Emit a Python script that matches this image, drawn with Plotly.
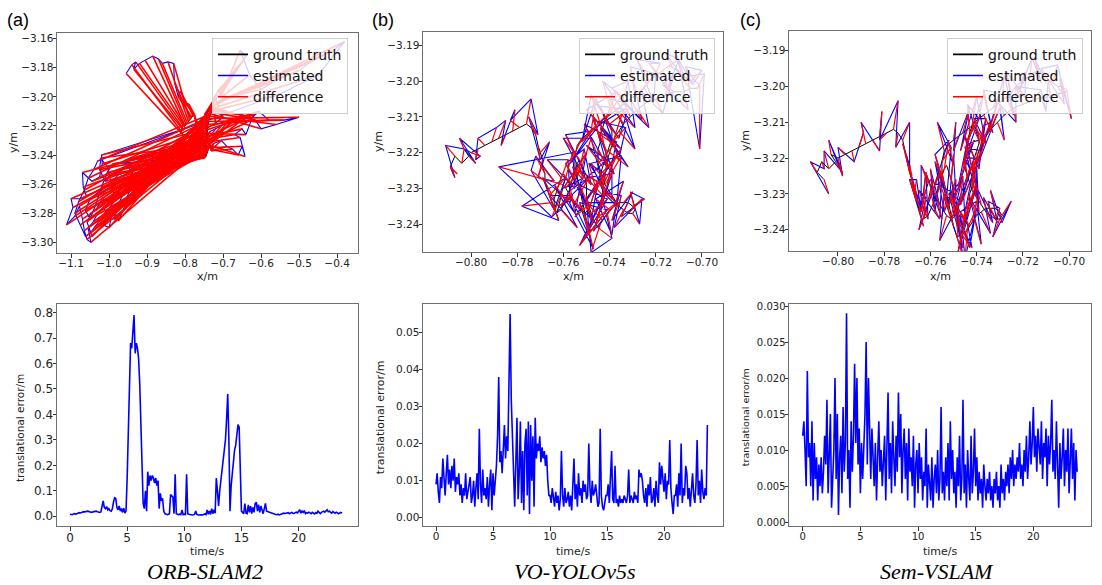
import numpy as np
import plotly.graph_objects as go

W, H = 1102, 585

# ---------------- trajectory data ----------------
# ground-truth trajectory (m), shared by all three methods
GT_X = [-0.806, -0.809, -0.807, -0.804, -0.801, -0.803, -0.800, -0.797, -0.794, -0.791,
        -0.788, -0.785, -0.782, -0.779, -0.776, -0.774, -0.772, -0.771, -0.770, -0.769,
        -0.769, -0.768, -0.768, -0.767, -0.766, -0.765, -0.764, -0.764, -0.763, -0.762,
        -0.761, -0.760, -0.759, -0.760, -0.761, -0.762, -0.763, -0.761, -0.759, -0.757,
        -0.756, -0.755, -0.754, -0.753, -0.752, -0.751, -0.750, -0.750, -0.749, -0.748,
        -0.747, -0.746, -0.745, -0.744, -0.743, -0.742, -0.741, -0.740, -0.738, -0.736,
        -0.734, -0.732, -0.730, -0.729, -0.730, -0.732, -0.734, -0.736, -0.738, -0.740,
        -0.742, -0.743, -0.744, -0.745, -0.745, -0.745, -0.744, -0.744, -0.743, -0.742,
        -0.741, -0.739, -0.737, -0.735, -0.733, -0.731, -0.729, -0.727, -0.725, -0.723,
        -0.721, -0.719, -0.717, -0.715, -0.713, -0.711, -0.709, -0.707, -0.705, -0.703,
        -0.701, -0.702, -0.705, -0.708, -0.712, -0.716, -0.720, -0.724, -0.728, -0.731,
        -0.734, -0.736, -0.738, -0.739, -0.740, -0.741, -0.741, -0.742, -0.742, -0.743,
        -0.743, -0.744, -0.744, -0.745, -0.746, -0.747, -0.748, -0.749, -0.750, -0.751,
        -0.752, -0.753, -0.754, -0.755, -0.755, -0.754, -0.752, -0.750, -0.748, -0.746,
        -0.744, -0.742, -0.740, -0.739, -0.739, -0.740, -0.741, -0.742, -0.743, -0.744,
        -0.745, -0.746, -0.747, -0.748, -0.749, -0.751, -0.753, -0.755, -0.757, -0.759]
GT_Y = [-3.226, -3.224, -3.221, -3.223, -3.221, -3.219, -3.220, -3.219, -3.218, -3.217,
        -3.216, -3.215, -3.214, -3.213, -3.212, -3.213, -3.215, -3.218, -3.220, -3.222,
        -3.224, -3.226, -3.228, -3.230, -3.232, -3.234, -3.235, -3.233, -3.231, -3.229,
        -3.227, -3.226, -3.227, -3.229, -3.232, -3.235, -3.237, -3.236, -3.233, -3.230,
        -3.227, -3.225, -3.223, -3.222, -3.224, -3.226, -3.229, -3.232, -3.235, -3.237,
        -3.239, -3.240, -3.241, -3.240, -3.239, -3.238, -3.237, -3.236, -3.235, -3.234,
        -3.234, -3.234, -3.235, -3.236, -3.237, -3.237, -3.236, -3.235, -3.233, -3.231,
        -3.229, -3.227, -3.225, -3.223, -3.221, -3.219, -3.217, -3.215, -3.213, -3.211,
        -3.210, -3.209, -3.208, -3.207, -3.206, -3.205, -3.204, -3.203, -3.202, -3.200,
        -3.199, -3.198, -3.197, -3.196, -3.196, -3.197, -3.198, -3.199, -3.200, -3.200,
        -3.201, -3.202, -3.202, -3.203, -3.203, -3.204, -3.205, -3.206, -3.208, -3.210,
        -3.212, -3.214, -3.216, -3.218, -3.220, -3.222, -3.224, -3.226, -3.228, -3.230,
        -3.232, -3.234, -3.236, -3.238, -3.240, -3.241, -3.242, -3.241, -3.239, -3.236,
        -3.233, -3.230, -3.227, -3.224, -3.221, -3.218, -3.216, -3.215, -3.214, -3.213,
        -3.212, -3.211, -3.212, -3.214, -3.216, -3.218, -3.220, -3.222, -3.224, -3.226,
        -3.228, -3.230, -3.232, -3.234, -3.236, -3.237, -3.236, -3.234, -3.232, -3.230]

# ORB-SLAM2 estimated positions (m)
ORB_X = [-0.955, -0.940, -0.930, -0.935, -0.920, -0.905, -0.885, -0.870, -0.860, -0.845,
         -0.830, -0.828, -0.818, -0.812, -0.800, -0.790, -0.782, -0.775, -0.770, -0.766,
         -1.020, -1.018, -1.025, -1.045, -1.070, -1.068, -1.060, -1.075, -1.100, -1.095,
         -1.112, -1.090, -1.078, -1.070, -1.065, -1.058, -1.048, -1.055, -1.042, -1.030,
         -1.015, -1.000, -0.985, -0.978, -0.965, -0.955, -0.945, -0.935, -0.950, -0.965,
         -0.990, -1.010, -1.030, -1.050, -1.062, -1.050, -1.035, -1.020, -1.005, -0.990,
         -0.752, -0.740, -0.725, -0.705, -0.690, -0.675, -0.660, -0.650, -0.642, -0.655,
         -0.670, -0.650, -0.640, -0.620, -0.605, -0.580, -0.540, -0.500, -0.560, -0.600,
         -0.615, -0.640, -0.660, -0.690, -0.710, -0.735, -0.748, -0.745, -0.720, -0.700,
         -0.730, -0.715, -0.700, -0.690, -0.680, -0.665, -0.650, -0.640, -0.655, -0.630,
         -0.600, -0.570, -0.540, -0.500, -0.470, -0.440, -0.410, -0.380, -0.450, -0.550,
         -1.030, -1.040, -1.055, -1.065, -1.080, -1.090, -1.075, -1.062, -1.050, -1.040,
         -1.028, -1.012, -0.998, -0.982, -0.970, -0.960, -0.975, -0.995, -1.010, -1.025,
         -1.022, -1.005, -0.988, -1.000, -1.018, -1.035, -1.048, -1.058, -1.045, -1.030,
         -1.015, -1.000, -0.992, -0.975, -0.960, -0.955, -0.940, -0.930, -0.945, -0.960,
         -0.750, -0.735, -0.720, -0.705, -0.690, -0.675, -0.660, -0.650, -0.640, -0.610]
ORB_Y = [-3.184, -3.178, -3.176, -3.181, -3.177, -3.175, -3.172, -3.174, -3.177, -3.176,
         -3.177, -3.190, -3.200, -3.196, -3.204, -3.205, -3.210, -3.214, -3.216, -3.219,
         -3.240, -3.246, -3.255, -3.258, -3.252, -3.262, -3.268, -3.270, -3.270, -3.276,
         -3.288, -3.282, -3.275, -3.284, -3.292, -3.298, -3.300, -3.290, -3.286, -3.280,
         -3.276, -3.284, -3.284, -3.275, -3.268, -3.262, -3.256, -3.250, -3.246, -3.250,
         -3.258, -3.262, -3.266, -3.270, -3.278, -3.284, -3.274, -3.262, -3.252, -3.246,
         -3.241, -3.236, -3.232, -3.230, -3.234, -3.236, -3.240, -3.234, -3.241, -3.228,
         -3.226, -3.222, -3.226, -3.212, -3.210, -3.216, -3.216, -3.214, -3.219, -3.222,
         -3.216, -3.213, -3.212, -3.210, -3.209, -3.209, -3.212, -3.222, -3.218, -3.214,
         -3.206, -3.200, -3.196, -3.190, -3.186, -3.180, -3.176, -3.172, -3.168, -3.185,
         -3.195, -3.190, -3.186, -3.182, -3.176, -3.172, -3.168, -3.162, -3.185, -3.198,
         -3.244, -3.250, -3.256, -3.264, -3.272, -3.280, -3.288, -3.296, -3.294, -3.290,
         -3.286, -3.280, -3.276, -3.270, -3.262, -3.256, -3.252, -3.254, -3.258, -3.250,
         -3.242, -3.248, -3.266, -3.272, -3.270, -3.278, -3.280, -3.286, -3.296, -3.292,
         -3.288, -3.290, -3.280, -3.285, -3.276, -3.270, -3.262, -3.256, -3.250, -3.244,
         -3.230, -3.224, -3.222, -3.220, -3.218, -3.216, -3.218, -3.212, -3.218, -3.211]

# VO-YOLOv5s position error vectors relative to ground truth (mm)
YOLO_DX_MM = [-3, 2, -4, 1, 3, -2, 4, -1, -3, 2,
              3, -2, 1, -4, 2, 3, -3, 1, 4, -2,
              5, -4, -6, 3, 7, -13, 2, -5, 6, 4,
              -6, 5, 3, -28, -4, 6, -3, 7, -5, 2,
              6, -5, 3, -7, 4, 8, -6, 2, -4, 7,
              -5, 3, 6, -4, -7, 5, 2, -6, 4, -3,
              4, -3, 5, -2, 3, 6, -4, 1, -5, 3,
              7, -5, 2, 8, -6, 4, -3, 9, -7, 5,
              6, -4, 8, 3, -6, 5, -2, 7, 4, -5,
              3, -4, 2, 5, -3, 4, -2, 3, 5, -4,
              0, 3, -4, 2, -5, 4, 3, -2, 5, -3,
              -6, 7, 4, -5, 8, -3, 6, -7, 5, 2,
              -7, 5, -3, 8, 4, -6, 7, -4, 3, -8,
              5, -6, 3, 7, -4, 6, -5, 8, 2, -6,
              -4, 6, 8, -5, 3, 7, -6, 4, -7, 5,
              6, -3, 5, -7, 4, 2, -5, 6, -4, 7]
YOLO_DY_MM = [2, -3, 3, 4, -2, 3, -1, -3, 2, 4,
              5, -3, 6, 2, 7, -2, 5, -4, 3, -5,
              -4, 5, 3, -6, 5, -1, -4, 6, -3, 7,
              5, -4, 7, 5, -6, 3, 5, -5, 4, -7,
              7, -5, -4, 6, 8, -3, 5, -7, 6, 4,
              -6, 7, -3, -8, 5, 4, -6, 3, 7, -5,
              3, -4, 2, 5, -3, 4, -5, 3, 2, -4,
              8, 4, -7, 6, 9, -5, 7, -4, 5, 8,
              6, 9, -5, 7, 4, -6, 8, 5, -4, 6,
              4, 3, -5, 2, 4, -3, 5, -2, 3, 4,
              -18, 4, 3, -5, 2, 6, -4, 3, -5, 4,
              7, -5, 8, 6, -4, 9, 5, -6, 7, 8,
              5, 8, -6, 4, 9, -5, 6, 7, -8, 4,
              -6, 7, 8, -5, 6, 4, -7, 5, 9, -4,
              8, -5, 4, 7, -6, 5, 9, -4, 6, 3,
              -5, 7, 6, -4, 8, -6, 5, 7, -3, 6]

# Sem-VSLAM position error vectors relative to ground truth (mm)
SEM_DX_MM = [2, -3, 1, -2, 3, -1, 2, -3, 1, 2,
             -2, 3, 1, -3, 2, -1, 3, 2, -2, 1,
             3, -2, 4, 1, -3, 2, -4, 3, 1, -2,
             -3, 4, -1, 2, 5, -3, 1, -4, 3, 2,
             4, -3, 2, -5, 3, 1, -2, 4, -3, 2,
             -2, 3, 5, -1, -4, 2, 3, -3, 4, -1,
             3, -2, 1, 4, -3, 2, -1, 3, -2, 1,
             2, -4, 3, 1, -3, 4, -2, 5, -1, 3,
             -3, 2, 4, -2, 3, -4, 1, 3, -2, 4,
             2, -3, 1, 3, -2, 1, -3, 2, 4, -1,
             2, -2, 3, -1, 2, 4, -3, 1, -2, 3,
             4, -3, 1, 5, -2, 3, -4, 2, 1, -3,
             -2, 4, 3, -3, 1, 5, -1, 3, -4, 2,
             3, -1, -4, 2, 4, -3, 2, 1, -2, 3,
             -3, 2, 4, -2, 3, 1, -4, 2, 3, -1,
             2, -4, 1, 3, -2, 4, -3, 1, 2, -3]
SEM_DY_MM = [-4, 3, -2, 5, -3, 4, -5, 2, -3, 4,
             6, -3, 7, -2, 8, -4, 5, -6, 4, -3,
             -6, 5, -7, 4, 6, -5, 8, -4, 7, -6,
             5, -7, 4, -6, 8, -5, 6, 7, -4, 5,
             -7, 6, 8, -5, -6, 7, -4, 6, 5, -8,
             6, -5, 7, -8, 4, 6, -7, 5, -6, 3,
             -4, 5, -3, 4, -5, 3, 4, -3, 5, -4,
             7, -6, 5, 8, -7, 4, -5, 6, 8, -4,
             -6, 7, -5, 6, 4, -8, 7, -5, 6, -3,
             3, -4, 5, -3, 4, -2, 3, 5, -4, 3,
             -8, 4, -3, 5, -4, 3, 5, -4, 3, -5,
             6, -7, 5, 8, -6, 4, 7, -5, 6, -8,
             -5, 7, 6, -8, 5, -4, 7, -6, 8, 5,
             7, -5, 6, -7, 4, 8, -6, 5, -4, 7,
             -6, 8, -4, 5, 7, -5, 6, -7, 4, 6,
             5, -6, 7, -4, 6, 5, -7, 4, -5, 6]

# ---------------- translational error over time ----------------
T_STEP = 0.1  # s between samples

ERR_ORB = [  # m
    0.008, 0.007, 0.006, 0.009, 0.010, 0.008, 0.011, 0.012, 0.014, 0.013,
    0.015, 0.016, 0.018, 0.017, 0.019, 0.020, 0.019, 0.018, 0.016, 0.015,
    0.017, 0.019, 0.021, 0.020, 0.018, 0.016, 0.015, 0.017, 0.045, 0.060,
    0.035, 0.030, 0.038, 0.025, 0.030, 0.022, 0.020, 0.028, 0.055, 0.072,
    0.070, 0.035, 0.025, 0.040, 0.020, 0.030, 0.015, 0.032, 0.012, 0.020,
    0.150, 0.350, 0.550, 0.680, 0.660, 0.720, 0.790, 0.640, 0.680, 0.660,
    0.620, 0.520, 0.380, 0.220, 0.050, 0.030, 0.100, 0.020, 0.175, 0.120,
    0.160, 0.140, 0.160, 0.150, 0.130, 0.150, 0.120, 0.140, 0.030, 0.090,
    0.060, 0.070, 0.020, 0.010, 0.008, 0.006, 0.008, 0.010, 0.085, 0.080,
    0.075, 0.010, 0.165, 0.010, 0.008, 0.006, 0.008, 0.007, 0.025, 0.006,
    0.008, 0.007, 0.165, 0.010, 0.008, 0.006, 0.007, 0.005, 0.006, 0.008,
    0.020, 0.007, 0.005, 0.006, 0.008, 0.006, 0.005, 0.007, 0.009, 0.006,
    0.025, 0.008, 0.020, 0.007, 0.030, 0.010, 0.025, 0.012, 0.150, 0.100,
    0.040, 0.100, 0.140, 0.180, 0.220, 0.260, 0.300, 0.380, 0.480, 0.300,
    0.020, 0.120, 0.180, 0.220, 0.260, 0.280, 0.320, 0.360, 0.350, 0.200,
    0.020, 0.015, 0.010, 0.050, 0.012, 0.010, 0.045, 0.015, 0.040, 0.010,
    0.035, 0.015, 0.050, 0.055, 0.020, 0.045, 0.015, 0.040, 0.020, 0.010,
    0.030, 0.050, 0.020, 0.018, 0.016, 0.015, 0.014, 0.012, 0.010, 0.008,
    0.007, 0.006, 0.008, 0.005, 0.007, 0.009, 0.010, 0.012, 0.011, 0.013,
    0.012, 0.014, 0.010, 0.013, 0.015, 0.012, 0.011, 0.014, 0.016, 0.013,
    0.018, 0.025, 0.012, 0.020, 0.015, 0.022, 0.010, 0.014, 0.012, 0.016,
    0.013, 0.010, 0.015, 0.012, 0.009, 0.014, 0.011, 0.020, 0.012, 0.010,
    0.015, 0.018, 0.020, 0.016, 0.022, 0.025, 0.018, 0.020, 0.015, 0.012,
    0.018, 0.015, 0.012, 0.016, 0.014, 0.010, 0.013, 0.015, 0.012]

ERR_YOLO_MM = [
    9, 12, 7, 4, 11, 8, 16, 10, 6, 12,
    17, 9, 13, 8, 14, 10, 16, 7, 11, 9,
    12, 6, 9, 4, 8, 6, 12, 5, 7, 9,
    11, 4, 6, 10, 3, 8, 12, 5, 24, 9,
    4, 13, 6, 8, 5, 11, 3, 9, 13, 2,
    12, 6, 10, 14, 22, 38, 15, 18, 12, 20,
    25, 16, 22, 18, 44, 55, 32, 20, 8, 3,
    15, 27, 5, 12, 26, 4, 18, 2, 20, 24,
    6, 26, 1, 25, 10, 22, 3, 27, 16, 20,
    18, 22, 15, 19, 16, 18, 14, 17, 10, 6,
    6, 4, 8, 5, 3, 7, 4, 6, 2, 5,
    18, 6, 3, 8, 4, 5, 7, 3, 6, 2,
    8, 16, 5, 9, 3, 12, 6, 8, 4, 10,
    7, 9, 5, 6, 20, 8, 4, 10, 6, 7,
    9, 5, 3, 4, 24, 6, 3, 2, 4, 6,
    6, 9, 4, 11, 18, 5, 4, 14, 4, 5,
    3, 6, 4, 5, 4, 6, 5, 4, 6, 13,
    4, 6, 5, 4, 7, 5, 6, 4, 13, 11,
    12, 10, 6, 4, 8, 3, 9, 6, 11, 4,
    5, 8, 3, 10, 6, 4, 15, 9, 14, 10,
    7, 12, 5, 10, 9, 21, 8, 4, 1, 6,
    6, 9, 3, 12, 6, 20, 4, 8, 6, 14,
    12, 5, 8, 3, 9, 12, 6, 4, 9, 21,
    6, 10, 4, 13, 7, 5, 8, 6, 25]

ERR_SEM_MM = [
    12, 14, 10, 5, 21, 9, 11, 5, 14, 3,
    11, 6, 9, 3, 8, 5, 9, 4, 7, 12,
    8, 17, 4, 11, 15, 2, 7, 10, 20, 6,
    15, 1, 9, 12, 4, 16, 7, 11, 29, 6,
    10, 2, 14, 7, 12, 22, 11, 20, 8, 13,
    4, 11, 6, 10, 15, 25, 8, 20, 11, 6,
    13, 8, 5, 11, 3, 9, 14, 7, 10, 5,
    8, 12, 3, 10, 18, 6, 11, 4, 14, 9,
    5, 12, 7, 18, 9, 15, 4, 10, 13, 6,
    11, 3, 13, 7, 9, 5, 12, 2, 8, 10,
    4, 11, 6, 9, 3, 7, 5, 13, 2, 8,
    5, 3, 9, 2, 6, 8, 4, 10, 3, 6,
    16, 4, 7, 3, 9, 5, 11, 3, 14, 6,
    10, 4, 7, 2, 9, 5, 12, 3, 6, 17,
    4, 8, 2, 10, 6, 3, 12, 4, 7, 13,
    5, 9, 3, 7, 4, 6, 2, 8, 5, 3,
    6, 4, 7, 3, 5, 2, 6, 4, 7, 3,
    5, 2, 8, 4, 6, 3, 7, 5, 8, 4,
    9, 6, 10, 5, 8, 6, 9, 7, 11, 6,
    8, 5, 10, 7, 12, 6, 9, 14, 8, 11,
    16, 9, 12, 7, 13, 10, 8, 14, 6, 11,
    9, 13, 5, 12, 8, 11, 17, 7, 10, 6,
    14, 8, 2, 11, 6, 9, 13, 5, 10, 7,
    13, 4, 9, 13, 6, 11, 3, 10, 7]

METHODS = ["ORB-SLAM2", "VO-YOLOv5s", "Sem-VSLAM"]
PANEL_TAGS = ["(a)", "(b)", "(c)"]
SERIES_NAMES = ["ground truth", "estimated", "difference"]
SERIES_COLORS = ["black", "blue", "red"]

# tick labels
TRAJ_XTICKS = [[-1.1, -1.0, -0.9, -0.8, -0.7, -0.6, -0.5, -0.4],
               [-0.80, -0.78, -0.76, -0.74, -0.72, -0.70],
               [-0.80, -0.78, -0.76, -0.74, -0.72, -0.70]]
TRAJ_YTICKS = [[-3.30, -3.28, -3.26, -3.24, -3.22, -3.20, -3.18, -3.16],
               [-3.24, -3.23, -3.22, -3.21, -3.20, -3.19],
               [-3.24, -3.23, -3.22, -3.21, -3.20, -3.19]]
TIME_TICKS = [0, 5, 10, 15, 20]
ERR_YTICKS = [[0.0, 0.1, 0.2, 0.3, 0.4, 0.5, 0.6, 0.7, 0.8],
              [0.00, 0.01, 0.02, 0.03, 0.04, 0.05],
              [0.000, 0.005, 0.010, 0.015, 0.020, 0.025, 0.030]]
ERR_YFMT = ["{:.1f}", "{:.2f}", "{:.3f}"]


def neg(v, fmt):
    return fmt.format(v).replace("-", "\u2212")


gt_x = np.array(GT_X)
gt_y = np.array(GT_Y)
est_xy = [
    (np.array(ORB_X), np.array(ORB_Y)),
    (gt_x + np.array(YOLO_DX_MM) / 1000.0, gt_y + np.array(YOLO_DY_MM) / 1000.0),
    (gt_x + np.array(SEM_DX_MM) / 1000.0, gt_y + np.array(SEM_DY_MM) / 1000.0),
]
errors = [np.array(ERR_ORB), np.array(ERR_YOLO_MM) / 1000.0, np.array(ERR_SEM_MM) / 1000.0]

# ---------------- panel geometry (pixels) ----------------
COL_X = [(57, 358), (423, 723), (789, 1091)]
TOP_Y = [(30, 252), (29, 251), (28, 250)]
BOT_Y = [(303, 527), (303, 527), (303, 527)]
TRAJ_XR = [(-1.137, -0.345), (-0.8208, -0.6909), (-0.8212, -0.6905)]
TRAJ_YR = [(-3.3075, -3.156), (-3.2479, -3.1862), (-3.246, -3.1845)]
TIME_R = [(-1.14, 25.2), (-1.14, 25.17), (-1.19, 25.0)]
ERR_R = [(-0.04, 0.834), (-0.00233, 0.0577), (-0.00059, 0.0303)]
TOP_TICK_SIZE = 10.5
BOT_TICK_SIZE = [12, 10.5, 10]
DIFF_WIDTH = [1.6, 1.2, 1.2]


def fx(p):
    return p / W


def fy(p):
    return 1 - p / H


FONT = "DejaVu Sans"
base_axis = dict(showline=True, linecolor="#6f6f6f", linewidth=1, mirror=True,
                 ticks="outside", ticklen=3.5, tickwidth=1, tickcolor="#333",
                 showgrid=False, zeroline=False, ticklabelstandoff=-3)

fig = go.Figure()
layout = dict(width=W, height=H, margin=dict(l=0, r=0, t=0, b=0),
              plot_bgcolor="white", paper_bgcolor="white", showlegend=True,
              hovermode=False)
legend_names = ["legend", "legend2", "legend3"]
legend_right = [348, 715, 1083]

annotations = []
for i in range(3):
    xa_top, ya_top = f"x{2*i+1}", f"y{2*i+1}"
    xa_bot, ya_bot = f"x{2*i+2}", f"y{2*i+2}"
    lg = legend_names[i]
    ex, ey = est_xy[i]

    fig.add_trace(go.Scatter(x=gt_x, y=gt_y, mode="lines", showlegend=False,
                             line=dict(color="black", width=1), xaxis=xa_top, yaxis=ya_top))
    fig.add_trace(go.Scatter(x=ex, y=ey, mode="lines", showlegend=False,
                             line=dict(color="blue", width=1.1), xaxis=xa_top, yaxis=ya_top))
    dxs, dys = [], []
    for k in range(len(gt_x)):
        dxs += [gt_x[k], ex[k], None]
        dys += [gt_y[k], ey[k], None]
    fig.add_trace(go.Scatter(x=dxs, y=dys, mode="lines", showlegend=False,
                             line=dict(color="red", width=DIFF_WIDTH[i]),
                             xaxis=xa_top, yaxis=ya_top))
    # legend keys
    for name, col in zip(SERIES_NAMES, SERIES_COLORS):
        fig.add_trace(go.Scatter(x=[None], y=[None], mode="lines", name=name,
                                 line=dict(color=col, width=1.6), xaxis=xa_top, yaxis=ya_top,
                                 legend=lg))

    t = np.arange(len(errors[i])) * T_STEP
    fig.add_trace(go.Scatter(x=t, y=errors[i], mode="lines", showlegend=False,
                             line=dict(color="blue", width=1.6), xaxis=xa_bot, yaxis=ya_bot))

    x0, x1 = COL_X[i]
    ty0, ty1 = TOP_Y[i]
    by0, by1 = BOT_Y[i]
    n_top, n_bot = 2 * i + 1, 2 * i + 2
    layout[f"xaxis{n_top}"] = dict(base_axis, domain=[fx(x0), fx(x1)], range=list(TRAJ_XR[i]),
                                   anchor=f"y{n_top}", tickvals=TRAJ_XTICKS[i],
                                   ticktext=[neg(v, "{:.1f}" if i == 0 else "{:.2f}") for v in TRAJ_XTICKS[i]],
                                   tickfont=dict(family=FONT, size=TOP_TICK_SIZE, color="#222"))
    layout[f"yaxis{n_top}"] = dict(base_axis, domain=[fy(ty1), fy(ty0)], range=list(TRAJ_YR[i]),
                                   anchor=f"x{n_top}", tickvals=TRAJ_YTICKS[i],
                                   ticktext=[neg(v, "{:.2f}") for v in TRAJ_YTICKS[i]],
                                   tickfont=dict(family=FONT, size=TOP_TICK_SIZE, color="#222"))
    layout[f"xaxis{n_bot}"] = dict(base_axis, domain=[fx(x0), fx(x1)], range=list(TIME_R[i]),
                                   anchor=f"y{n_bot}", tickvals=TIME_TICKS,
                                   ticktext=[str(v) for v in TIME_TICKS],
                                   tickfont=dict(family=FONT, size=BOT_TICK_SIZE[i], color="#222"))
    layout[f"yaxis{n_bot}"] = dict(base_axis, domain=[fy(by1), fy(by0)], range=list(ERR_R[i]),
                                   anchor=f"x{n_bot}", tickvals=ERR_YTICKS[i],
                                   ticktext=[ERR_YFMT[i].format(v) for v in ERR_YTICKS[i]],
                                   tickfont=dict(family=FONT, size=BOT_TICK_SIZE[i], color="#222"))

    layout[lg] = dict(x=fx(legend_right[i]), y=fy(35), xanchor="right", yanchor="top",
                      bgcolor="rgba(255,255,255,0.8)", bordercolor="#cfcfcf", borderwidth=1,
                      font=dict(family=FONT, size=14, color="#111"), tracegroupgap=0,
                      itemclick=False, itemdoubleclick=False)

    cx = (x0 + x1) / 2
    # axis titles
    annotations.append(dict(text="x/m", x=fx(cx), y=fy(275), xref="paper", yref="paper",
                            showarrow=False, xanchor="center", yanchor="middle",
                            font=dict(family=FONT, size=11, color="#222")))
    annotations.append(dict(text="time/s", x=fx(cx), y=fy(552), xref="paper", yref="paper",
                            showarrow=False, xanchor="center", yanchor="middle",
                            font=dict(family=FONT, size=11, color="#222")))
    ylab_x = [13, 378, 745][i]
    annotations.append(dict(text="y/m", x=fx(ylab_x), y=fy((ty0 + ty1) / 2), xref="paper",
                            yref="paper", showarrow=False, textangle=-90,
                            xanchor="center", yanchor="middle",
                            font=dict(family=FONT, size=11, color="#222")))
    elab_x = [20, 380, 745][i]
    annotations.append(dict(text="translational error/m", x=fx(elab_x), y=fy([428, 417, 417][i]),
                            xref="paper", yref="paper", showarrow=False, textangle=-90,
                            xanchor="center", yanchor="middle",
                            font=dict(family=FONT, size=[10.5, 11, 9.5][i], color="#222")))
    # panel tag
    annotations.append(dict(text=PANEL_TAGS[i], x=fx([18, 383, 751][i]), y=fy(17),
                            xref="paper", yref="paper", showarrow=False,
                            xanchor="center", yanchor="middle",
                            font=dict(family="Liberation Sans", size=18, color="black")))
    # method caption
    annotations.append(dict(text=f"<i>{METHODS[i]}</i>", x=fx([205, 575, 937][i]), y=fy(572),
                            xref="paper", yref="paper", showarrow=False,
                            xanchor="center", yanchor="middle",
                            font=dict(family="Liberation Serif", size=22, color="black")))

layout["annotations"] = annotations
fig.update_layout(**layout)
fig.write_html("out.html")
